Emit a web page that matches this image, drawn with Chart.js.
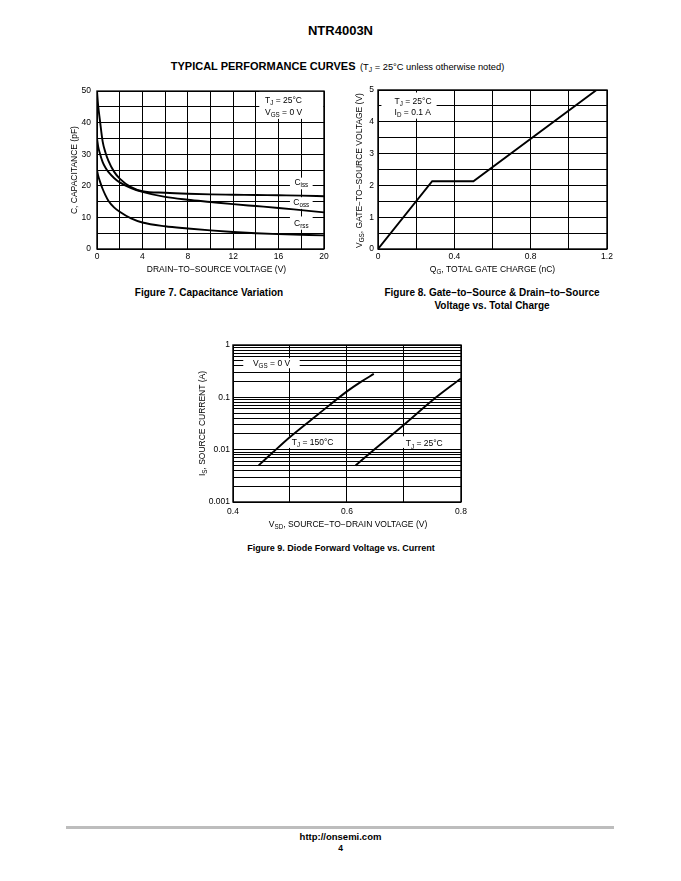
<!DOCTYPE html>
<html><head><meta charset="utf-8"><title>NTR4003N</title>
<script src="https://cdn.jsdelivr.net/npm/chart.js@4.4.1/dist/chart.umd.min.js"></script>
<style>
html,body{margin:0;padding:0;background:#fff}
body{position:relative;width:681px;height:881px;overflow:hidden;font-family:"Liberation Sans",Arial,Helvetica,sans-serif;color:#000}
.t{position:absolute;white-space:nowrap;text-align:center}
.b{font-weight:bold}
sub{font-size:0.72em;vertical-align:-0.3em;line-height:0}
.box{position:absolute}
canvas{display:block}
</style></head><body>
<div class="t b" style="left:0;width:681px;top:23px;font-size:13px;line-height:16px">NTR4003N</div>
<div class="t" style="left:-3px;width:681px;top:58px;line-height:14px"><span class="b" style="font-size:11px">TYPICAL PERFORMANCE CURVES</span> <span style="font-size:9.3px">(T<sub>J</sub> = 25°C unless otherwise noted)</span></div>
<div class="box" style="left:55px;top:80px"><canvas id="c1" width="285" height="200"></canvas></div>
<div class="box" style="left:345px;top:80px"><canvas id="c2" width="280" height="200"></canvas></div>
<div class="box" style="left:190px;top:335px"><canvas id="c3" width="290" height="200"></canvas></div>
<div class="t b" style="left:109px;width:200px;top:286px;font-size:10px;line-height:13px">Figure 7. Capacitance Variation</div>
<div class="t b" style="left:342px;width:300px;top:286px;font-size:10px;line-height:13px">Figure 8. Gate−to−Source &amp; Drain−to−Source<br>Voltage vs. Total Charge</div>
<div class="t b" style="left:191px;width:300px;top:542px;font-size:9px;line-height:12px">Figure 9. Diode Forward Voltage vs. Current</div>
<div style="position:absolute;left:66px;top:826px;width:548px;height:3px;background:#bdbdbd"></div>
<div class="t b" style="left:0;width:681px;top:831px;font-size:9.5px;line-height:12px">http://onsemi.com</div>
<div class="t b" style="left:0;width:681px;top:842px;font-size:8.5px;line-height:12px">4</div>
<script>
// ---------- Figure 7: capacitance ----------
const capVoltage = [0, 0.1, 0.25, 0.5, 0.75, 1, 1.5, 2, 3, 4, 6, 8, 10, 12, 14, 16, 18, 20];
const cissValues = [50, 45.5, 41, 34, 30.5, 28, 24.5, 22.3, 19.6, 18.3, 17.8, 17.5, 17.3, 17.2, 17.1, 17.0, 16.9, 16.7];
const cossValues = [35, 32.5, 30.3, 27.5, 25.7, 24.4, 22.5, 21.1, 19.3, 18.1, 16.5, 15.6, 14.9, 14.2, 13.6, 13.0, 12.3, 11.6];
const crssValues = [25, 23.3, 21.5, 19, 17, 15.3, 13.2, 11.8, 9.7, 8.4, 7.2, 6.5, 5.9, 5.4, 5.0, 4.7, 4.5, 4.3];
const capXGrid = [0, 2, 4, 6, 8, 10, 12, 14, 16, 18, 20];
const capXTickLabels = [0, 4, 8, 12, 16, 20];
const capYGrid = [0, 5, 10, 15, 20, 25, 30, 35, 40, 45, 50];
const capYTickLabels = [0, 10, 20, 30, 40, 50];

// ---------- Figure 8: gate charge ----------
const gateCharge = [0, 0.284, 0.5, 1.145];
const gateVoltage = [0, 2.13, 2.13, 5];
const gcXGrid = [0, 0.2, 0.4, 0.6, 0.8, 1.0, 1.2];
const gcXTickLabels = [0, 0.4, 0.8, 1.2];
const gcYGrid = [0, 0.5, 1, 1.5, 2, 2.5, 3, 3.5, 4, 4.5, 5];
const gcYTickLabels = [0, 1, 2, 3, 4, 5];

// ---------- Figure 9: diode forward ----------
const vsd150 = [0.445, 0.47, 0.5, 0.55, 0.6, 0.625, 0.647];
const is150 = [0.005, 0.0089, 0.0175, 0.048, 0.13, 0.2, 0.28];
const vsd25 = [0.615, 0.65, 0.7, 0.75, 0.8];
const is25 = [0.005, 0.0105, 0.03, 0.088, 0.23];
const diodeXGrid = [0.4, 0.5, 0.6, 0.7, 0.8];
const diodeXTickLabels = [0.4, 0.6, 0.8];
const diodeYGrid = [0.001, 0.002, 0.003, 0.004, 0.005, 0.006, 0.007, 0.008, 0.009,
  0.01, 0.02, 0.03, 0.04, 0.05, 0.06, 0.07, 0.08, 0.09,
  0.1, 0.2, 0.3, 0.4, 0.5, 0.6, 0.7, 0.8, 0.9, 1];
const diodeYTickLabels = [0.001, 0.01, 0.1, 1];

const FONT = '"Liberation Sans", Arial, Helvetica, sans-serif';
const FS = 8.5;
const fontStr = px => px + 'px ' + FONT;
const pts = (xs, ys) => xs.map((x, i) => ({x: x, y: ys[i]}));
const near = (v, list) => list.some(t => Math.abs(t - v) <= Math.abs(t) * 1e-6 + 1e-9);
const fmt = v => String(Math.round(v * 1000) / 1000);

function drawRich(ctx, parts, x, y, size, align, rotate) {
  ctx.save();
  ctx.translate(x, y);
  if (rotate) ctx.rotate(-Math.PI / 2);
  const sub = size * 0.74;
  let w = 0;
  parts.forEach(p => { ctx.font = fontStr(p[1] ? sub : size); w += ctx.measureText(p[0]).width; });
  let cx = align === 'center' ? -w / 2 : (align === 'right' ? -w : 0);
  ctx.fillStyle = '#000';
  ctx.textBaseline = 'middle';
  ctx.textAlign = 'left';
  parts.forEach(p => {
    ctx.font = fontStr(p[1] ? sub : size);
    ctx.fillText(p[0], cx, p[1] ? size * 0.32 : 0);
    cx += ctx.measureText(p[0]).width;
  });
  ctx.restore();
}

function makeNotes(cfg) {
  return {
    id: 'notes',
    beforeDatasetsDraw(chart) {
      const ctx = chart.ctx, xs = chart.scales.x, ys = chart.scales.y;
      ctx.save();
      (cfg.boxes || []).forEach(b => {
        const x1 = xs.getPixelForValue(b.x1), x2 = xs.getPixelForValue(b.x2);
        const y1 = ys.getPixelForValue(b.y1), y2 = ys.getPixelForValue(b.y2);
        ctx.fillStyle = '#fff';
        ctx.fillRect(Math.min(x1, x2), Math.min(y1, y2), Math.abs(x2 - x1), Math.abs(y2 - y1));
      });
      (cfg.texts || []).forEach(t => {
        drawRich(ctx, t.parts, xs.getPixelForValue(t.x), ys.getPixelForValue(t.y), FS, t.align || 'left');
      });
      ctx.restore();
    },
    afterDatasetsDraw(chart) {
      const a = chart.chartArea, ctx = chart.ctx;
      ctx.save();
      ctx.strokeStyle = '#000';
      ctx.lineWidth = 1.4;
      ctx.strokeRect(a.left, a.top, a.right - a.left, a.bottom - a.top);
      ctx.restore();
    },
    afterDraw(chart) {
      const a = chart.chartArea, ctx = chart.ctx;
      if (cfg.xTitle) drawRich(ctx, cfg.xTitle.parts, (a.left + a.right) / 2 + (cfg.xTitle.dx || 0), a.bottom + cfg.xTitle.dy, FS, 'center');
      if (cfg.yTitle) drawRich(ctx, cfg.yTitle.parts, a.left - cfg.yTitle.dx, (a.top + a.bottom) / 2 + (cfg.yTitle.dy || 0), FS, 'center', true);
    }
  };
}

const lineStyle = {borderColor: '#000', borderWidth: 1.9, pointRadius: 0, fill: false, cubicInterpolationMode: 'monotone', tension: 0.4};
const gridStyle = {color: '#000', lineWidth: 1, drawTicks: false};
const tickFont = {family: FONT, size: FS};

function axis(type, min, max, grid, labels, fitSize, horiz, pad) {
  return {
    type: type, min: min, max: max,
    afterBuildTicks: s => { s.ticks = grid.map(v => ({value: v})); },
    afterFit: s => { if (horiz) s.height = fitSize; else s.width = fitSize; },
    grid: gridStyle,
    border: {display: false},
    ticks: {font: tickFont, color: '#000', padding: pad, maxRotation: 0, autoSkip: false,
      callback: v => near(v, labels) ? fmt(v) : ''}
  };
}

function baseOptions(padding, xScale, yScale) {
  return {
    responsive: false, animation: false, events: [],
    layout: {padding: padding, autoPadding: false},
    plugins: {legend: {display: false}, tooltip: {enabled: false}, title: {display: false}},
    scales: {x: xScale, y: yScale}
  };
}

// Figure 7 chart
new Chart(document.getElementById('c1'), {
  type: 'line',
  data: {datasets: [
    Object.assign({label: 'Ciss', data: pts(capVoltage, cissValues)}, lineStyle),
    Object.assign({label: 'Coss', data: pts(capVoltage, cossValues)}, lineStyle),
    Object.assign({label: 'Crss', data: pts(capVoltage, crssValues)}, lineStyle)
  ]},
  options: baseOptions({left: 0, right: 16, top: 10, bottom: 0},
    axis('linear', 0, 20, capXGrid, capXTickLabels, 31, true, 3),
    axis('linear', 0, 50, capYGrid, capYTickLabels, 42, false, 6)),
  plugins: [makeNotes({
    boxes: [
      {x1: 14.3, x2: 19.95, y1: 41.2, y2: 49.9},
      {x1: 17.0, x2: 19.0, y1: 18.9, y2: 22.6},
      {x1: 17.0, x2: 19.0, y1: 12.7, y2: 16.4},
      {x1: 17.0, x2: 19.0, y1: 6.1, y2: 10.3}
    ],
    texts: [
      {x: 14.8, y: 47.1, parts: [['T', 0], ['J', 1], [' = 25°C', 0]]},
      {x: 14.8, y: 43.3, parts: [['V', 0], ['GS', 1], [' = 0 V', 0]]},
      {x: 18, y: 20.9, parts: [['C', 0], ['iss', 1]], align: 'center'},
      {x: 18, y: 14.6, parts: [['C', 0], ['oss', 1]], align: 'center'},
      {x: 18, y: 8.1, parts: [['C', 0], ['rss', 1]], align: 'center'}
    ],
    xTitle: {parts: [['DRAIN−TO−SOURCE VOLTAGE (V)', 0]], dx: 6, dy: 21},
    yTitle: {parts: [['C, CAPACITANCE (pF)', 0]], dx: 22, dy: 0}
  })]
});

// Figure 8 chart
new Chart(document.getElementById('c2'), {
  type: 'line',
  data: {datasets: [
    Object.assign({label: 'VGS', data: pts(gateCharge, gateVoltage)}, lineStyle, {cubicInterpolationMode: 'default', tension: 0})
  ]},
  options: baseOptions({left: 0, right: 18, top: 10, bottom: 0},
    axis('linear', 0, 1.2, gcXGrid, gcXTickLabels, 31, true, 3),
    axis('linear', 0, 5, gcYGrid, gcYTickLabels, 33, false, 4)),
  plugins: [makeNotes({
    boxes: [{x1: 0.018, x2: 0.307, y1: 4.1, y2: 4.92}],
    texts: [
      {x: 0.087, y: 4.63, parts: [['T', 0], ['J', 1], [' = 25°C', 0]]},
      {x: 0.087, y: 4.28, parts: [['I', 0], ['D', 1], [' = 0.1 A', 0]]}
    ],
    xTitle: {parts: [['Q', 0], ['G', 1], [', TOTAL GATE CHARGE (nC)', 0]], dx: 0, dy: 21},
    yTitle: {parts: [['V', 0], ['GS', 1], [', GATE−TO−SOURCE VOLTAGE (V)', 0]], dx: 18, dy: 1}
  })]
});

// Figure 9 chart
new Chart(document.getElementById('c3'), {
  type: 'line',
  data: {datasets: [
    Object.assign({label: 'TJ = 150°C', data: pts(vsd150, is150)}, lineStyle),
    Object.assign({label: 'TJ = 25°C', data: pts(vsd25, is25)}, lineStyle)
  ]},
  options: baseOptions({left: 0, right: 19, top: 10, bottom: 0},
    axis('linear', 0.4, 0.8, diodeXGrid, diodeXTickLabels, 33, true, 5),
    axis('logarithmic', 0.001, 1, diodeYGrid, diodeYTickLabels, 43, false, 3)),
  plugins: [makeNotes({
    boxes: [
      {x1: 0.418, x2: 0.517, y1: 0.36, y2: 0.56},
      {x1: 0.497, x2: 0.587, y1: 0.0108, y2: 0.018},
      {x1: 0.697, x2: 0.777, y1: 0.0108, y2: 0.018}
    ],
    texts: [
      {x: 0.435, y: 0.443, parts: [['V', 0], ['GS', 1], [' = 0 V', 0]]},
      {x: 0.503, y: 0.0134, parts: [['T', 0], ['J', 1], [' = 150°C', 0]]},
      {x: 0.703, y: 0.0128, parts: [['T', 0], ['J', 1], [' = 25°C', 0]]}
    ],
    xTitle: {parts: [['V', 0], ['SD', 1], [', SOURCE−TO−DRAIN VOLTAGE (V)', 0]], dx: 1, dy: 23},
    yTitle: {parts: [['I', 0], ['S', 1], [', SOURCE CURRENT (A)', 0]], dx: 30, dy: 0}
  })]
});
</script>
</body></html>
